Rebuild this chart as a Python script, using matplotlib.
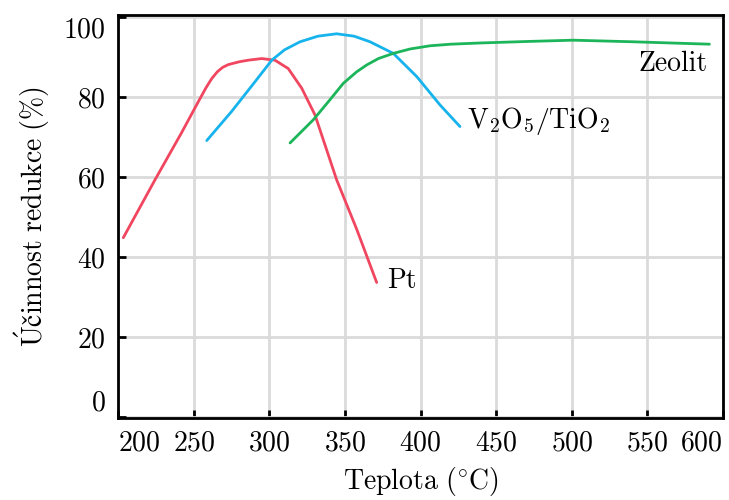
import matplotlib
matplotlib.use('Agg')
import matplotlib.pyplot as plt

plt.rcParams['font.family'] = ['cmr10', 'STIXGeneral']
plt.rcParams['mathtext.fontset'] = 'cm'
plt.rcParams['axes.formatter.use_mathtext'] = True

# data
pt_x = [203.3, 224.3, 241.9, 252.9, 258, 261.8, 265.5, 269, 272.8, 280, 286, 294.8, 303.6, 312.4,
        321.3, 330.1, 344.4, 357.7, 370.9]
pt_y = [44.8, 59.3, 71.1, 78.8, 82.3, 84.6, 86.3, 87.4, 88.1, 88.8, 89.2, 89.6, 89.2, 87.1,
        82.2, 75.5, 59.3, 46.9, 33.6]

v_x = [258.5, 275, 290.4, 301.5, 310, 320.2, 332, 344.4, 356, 366.5, 381.9, 397.4, 412.8, 426]
v_y = [69.1, 76.4, 83.8, 89.2, 91.8, 93.8, 95.2, 95.8, 95.2, 93.8, 90.9, 85.1, 78, 72.6]

z_x = [313.6, 329, 340, 348.8, 357.7, 364.3, 372, 381.9, 393, 406.2, 420, 439.2, 472.3, 501,
       540.6, 591]
z_y = [68.5, 74.3, 79.3, 83.4, 86.3, 88, 89.6, 90.9, 92, 92.8, 93.2, 93.5, 93.9, 94.2,
       93.8, 93.2]

xticks = [200, 250, 300, 350, 400, 450, 500, 550, 600]
yticks = [0, 20, 40, 60, 80, 100]

fig = plt.figure(figsize=(7.29, 5.0), dpi=100)
ax = fig.add_axes([0.1623, 0.164, 0.8295, 0.806])

kw = dict(lw=2.0, solid_capstyle='round', solid_joinstyle='round')
ax.plot(pt_x, pt_y, color='#f0465f', **kw)
ax.plot(v_x, v_y, color='#17b3ec', **kw)
ax.plot(z_x, z_y, color='#1cb55a', **kw)

fs = 20
ax.text(377.5, 34, 'Pt', fontsize=fs, va='center', ha='left')
ax.text(430.4, 73.9, r'$\mathrm{V_2O_5/TiO_2}$', fontsize=fs, va='center', ha='left')
ax.text(590, 88.3, 'Zeolit', fontsize=fs, va='center', ha='right')

ax.set_xlim(200, 600)
ax.set_ylim(-0.3, 100.5)
ax.set_xticks(xticks)
ax.set_yticks(yticks)
ax.grid(True, color='#dadada', lw=2.0)
ax.set_axisbelow(True)
for s in ax.spines.values():
    s.set_linewidth(2.0)

ax.tick_params(direction='in', length=6, width=2.0, labelsize=fs, pad=9)
# edge labels pushed inside
xl = ax.get_xticklabels()
xl[0].set_ha('left')
xl[-1].set_ha('right')
yl = ax.get_yticklabels()
yl[0].set_va('bottom')
yl[-1].set_va('top')

ax.set_xlabel(r'$\mathrm{Teplota\ (^{\circ}C)}$', fontsize=fs, labelpad=6)
ax.set_ylabel(r'$\mathrm{\acute{U}činnost\ redukce\ (\%)}$', fontsize=fs, labelpad=8)

fig.savefig('out.png', dpi=100)
